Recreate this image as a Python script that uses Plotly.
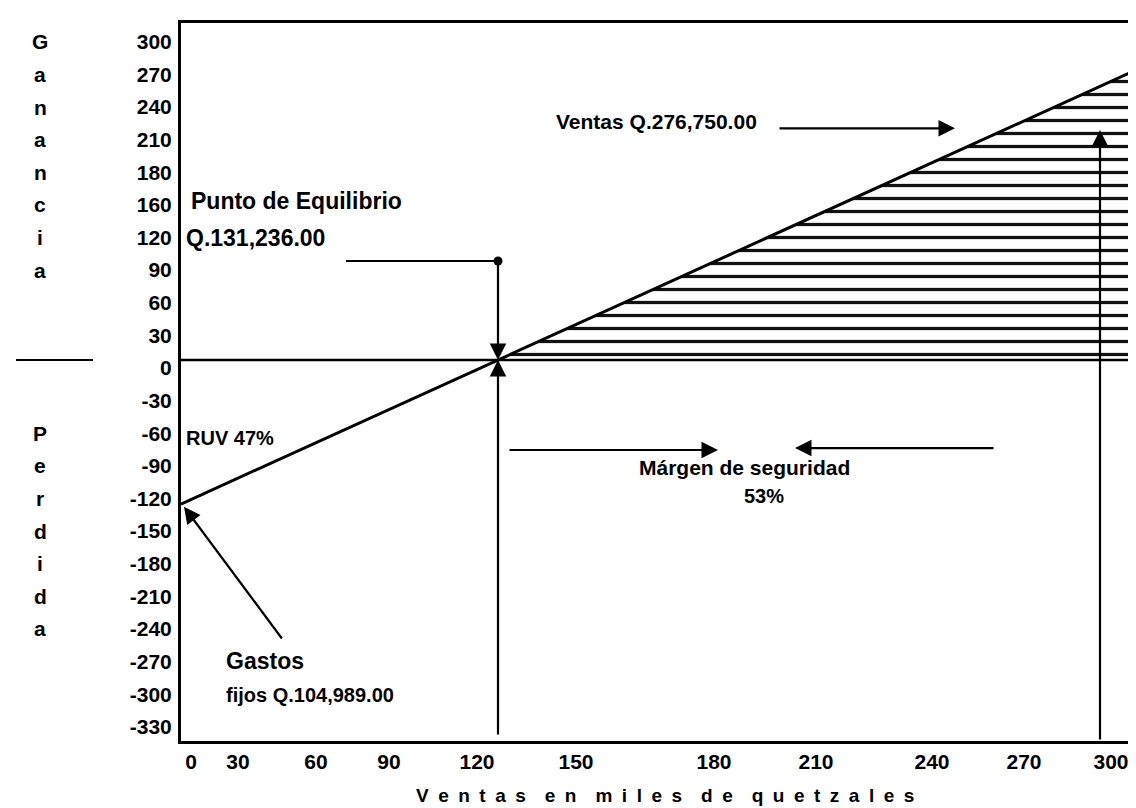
import plotly.graph_objects as go

# ---------------- data ----------------
x_tick_labels = ["0", "30", "60", "90", "120", "150", "180", "210", "240", "270", "300"]
y_tick_values = [300, 270, 240, 210, 180, 150, 120, 90, 60, 30, 0,
                 -30, -60, -90, -120, -150, -180, -210, -240, -270, -300, -330]
y_tick_labels = ["300", "270", "240", "210", "180", "160", "120", "90", "60", "30", "0",
                 "-30", "-60", "-90", "-120", "-150", "-180", "-210", "-240", "-270", "-300", "-330"]

# profit line (axis units)
fixed_cost_y = -132.5      # where the line meets the vertical axis
breakeven_x = 317          # where the line crosses zero
line_end_x = 963
line_end_y = 270

sales_x = 919              # vertical arrow for actual sales
sales_tip_y = 211.5

equil_marker_y = 91        # dot above the breakeven point
equil_line_start_x = 165

ganancia_letters = list("Ganancia")
ganancia_rows = [300, 270, 240, 210, 180, 150, 120, 90]
perdida_letters = list("Perdida")
perdida_rows = [-60, -90, -120, -150, -180, -210, -240]

# ---------------- layout constants ----------------
x_tick_pos = [10, 57, 135, 208, 296, 395, 533, 635, 751, 843, 930]
X_RANGE = [0, 963]
Y_RANGE = [-350.4, 309.9]
FONT = "Liberation Sans, Arial, sans-serif"

fig = go.Figure()

# hatched region (profit zone)
fig.add_trace(go.Scatter(
    x=[breakeven_x, line_end_x], y=[0, line_end_y],
    mode="lines", line=dict(width=0), fill="tozeroy",
    fillcolor="rgba(0,0,0,0)",
    fillpattern=dict(shape="-", size=13, solidity=0.25,
                     fgcolor="#111111", bgcolor="rgba(0,0,0,0)", fillmode="replace"),
    hoverinfo="skip", showlegend=False))

# profit line
fig.add_trace(go.Scatter(
    x=[0, breakeven_x, line_end_x], y=[fixed_cost_y, 0, line_end_y],
    mode="lines", line=dict(color="black", width=3),
    cliponaxis=False, showlegend=False, hoverinfo="skip"))

# line to the equilibrium dot
fig.add_trace(go.Scatter(
    x=[equil_line_start_x, breakeven_x], y=[equil_marker_y, equil_marker_y],
    mode="lines", line=dict(color="black", width=2),
    showlegend=False, hoverinfo="skip"))
fig.add_trace(go.Scatter(
    x=[breakeven_x], y=[equil_marker_y], mode="markers",
    marker=dict(color="black", size=9), showlegend=False, hoverinfo="skip"))

# zero line
fig.add_shape(type="line", xref="x", yref="y", x0=X_RANGE[0], x1=X_RANGE[1], y0=0, y1=0,
              line=dict(color="black", width=2.5))
# stub between "Ganancia" and "Perdida"
fig.add_shape(type="line", xref="paper", yref="y", x0=-0.1713, x1=-0.0914, y0=0, y1=0,
              line=dict(color="black", width=2))


def arrow(tip_x, tip_y, tail_x, tail_y, width=2.2, size=1.5):
    fig.add_annotation(x=tip_x, y=tip_y, ax=tail_x, ay=tail_y,
                       xref="x", yref="y", axref="x", ayref="y",
                       text="", showarrow=True, arrowhead=2, arrowsize=size,
                       arrowwidth=width, arrowcolor="black", standoff=0)


# breakeven arrows
arrow(breakeven_x, 0, breakeven_x, Y_RANGE[0] + 4.5)
arrow(breakeven_x, 0, breakeven_x, equil_marker_y)
# sales arrow (vertical)
arrow(sales_x, sales_tip_y, sales_x, Y_RANGE[0])
# "Ventas" pointer
arrow(774, 213, 597, 213)
# margin of safety arrows
arrow(537, -82.8, 327, -82.8)
arrow(614, -81, 814, -81)
# fixed cost pointer
arrow(3, -135, 102, -257.5)


def text(x, y, s, size=20, anchor="left"):
    fig.add_annotation(x=x, y=y, xref="x", yref="y", text=s, showarrow=False,
                       xanchor=anchor, yanchor="middle", borderpad=0,
                       font=dict(family=FONT, size=size, color="black", weight="bold"))


text(9, 146, "Punto de Equilibrio", 23)
text(4, 112, "Q.131,236.00", 23)
text(577, 219, "Ventas Q.276,750.00", 21, anchor="right")
text(4, -71.7, "RUV 47%", 20)
text(563, -99.3, "Márgen de seguridad", 21, anchor="center")
text(583, -125, "53%", 20, anchor="center")
text(44, -277, "Gastos", 23)
text(44, -308, "fijos Q.104,989.00", 20)

# vertical letters of the y title
for letter, row in zip(ganancia_letters, ganancia_rows):
    fig.add_annotation(x=-0.1464, y=row, xref="paper", yref="y", text=letter,
                       showarrow=False, yshift=-8, xanchor="center", yanchor="middle",
                       font=dict(family=FONT, size=21, color="black", weight="bold"))
for letter, row in zip(perdida_letters, perdida_rows):
    fig.add_annotation(x=-0.1464, y=row, xref="paper", yref="y", text=letter,
                       showarrow=False, yshift=-8, xanchor="center", yanchor="middle",
                       font=dict(family=FONT, size=21, color="black", weight="bold"))

# x title with letter spacing
title = "Ventas en miles de quetzales"
spaced = "\u2003".join("\u2002".join(w) for w in title.split(" "))
fig.add_annotation(x=0.5026, y=-0.0766, xref="paper", yref="paper", text=spaced,
                   showarrow=False, xanchor="center", yanchor="middle", borderpad=0,
                   font=dict(family=FONT, size=19, color="black", weight="bold"))

fig.update_layout(
    width=1136, height=808,
    margin=dict(l=173, r=0, t=15, b=75),
    paper_bgcolor="white", plot_bgcolor="white",
    showlegend=False,
    xaxis=dict(range=X_RANGE, tickvals=x_tick_pos, ticktext=x_tick_labels,
               showline=True, mirror=True, linecolor="black", linewidth=3,
               ticks="", showgrid=False, zeroline=False, ticklabelstandoff=0,
               tickfont=dict(family=FONT, size=21, color="black", weight="bold")),
    yaxis=dict(range=Y_RANGE, tickvals=y_tick_values, ticktext=y_tick_labels,
               showline=True, linecolor="black", linewidth=3,
               ticks="", showgrid=False, zeroline=False,
               ticklabelshift=8, ticklabelstandoff=2,
               tickfont=dict(family=FONT, size=21, color="black", weight="bold")),
)

fig.write_html("out.html")
